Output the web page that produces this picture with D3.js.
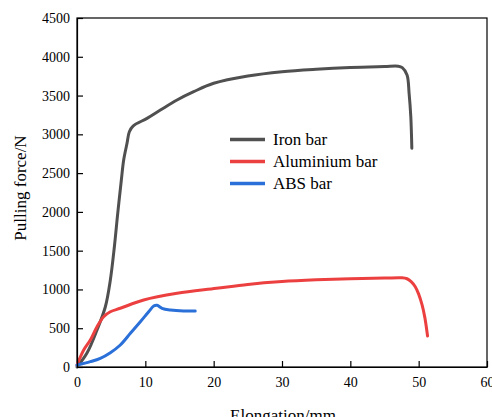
<!DOCTYPE html>
<html>
<head>
<meta charset="utf-8">
<script src="https://cdn.jsdelivr.net/npm/d3@7"></script>
<style>
  body { margin: 0; background: #fff; }
  svg { display: block; font-family: "Liberation Serif", "Times New Roman", serif; }
</style>
</head>
<body>
<svg></svg>
<script>
var w = 492;
var h = 417;

// elongation (mm) / pulling force (N)
var ironX = [0, 1.46, 2.93, 4.15, 4.88, 5.47, 5.96, 6.49, 6.83, 7.32, 7.66, 8.2, 10.25, 12.2, 14.64, 17.08, 20, 25, 30, 35, 40, 45, 47, 47.6, 48.3, 48.6, 48.85, 49.0];
var ironY = [0, 180, 477, 777, 1122, 1551, 1981, 2411, 2669, 2884, 3034, 3107, 3206, 3313, 3443, 3550, 3658, 3752, 3808, 3840, 3862, 3874, 3878, 3860, 3765, 3529, 3227, 2820];

var aluX = [0, 0.98, 1.95, 2.93, 3.9, 4.88, 6.34, 9.76, 14.64, 20.4, 25, 30, 35, 40, 45, 47.5, 48.3, 48.9, 49.5, 50.0, 50.5, 50.9, 51.3];
var aluY = [25, 219, 348, 520, 649, 713, 757, 864, 950, 1014, 1065, 1102, 1124, 1138, 1146, 1150, 1138, 1100, 1035, 940, 800, 640, 400];

var absX = [0, 1.95, 3.41, 4.88, 6.34, 7.81, 9.27, 10.49, 11.22, 11.71, 12.44, 13.66, 15.6, 17.3];
var absY = [25, 69, 112, 185, 284, 434, 584, 713, 786, 795, 757, 735, 722, 722];

var seriesNames = ["Iron bar", "Aluminium bar", "ABS bar"];
var colors = ["#505050", "#ec4040", "#2a70d8"];

var xTicks = [0, 10, 20, 30, 40, 50, 60];
var yTicks = [0, 500, 1000, 1500, 2000, 2500, 3000, 3500, 4000, 4500];

var series = [
  { name: seriesNames[0], x: ironX, y: ironY },
  { name: seriesNames[1], x: aluX, y: aluY },
  { name: seriesNames[2], x: absX, y: absY }
];

var plotLeft = 77, plotRight = 487, plotTop = 18, plotBottom = 367;

var x = d3.scaleLinear().domain([0, 60]).range([plotLeft, plotRight]);
var y = d3.scaleLinear().domain([0, 4500]).range([plotBottom, plotTop]);

var svg = d3.select("svg").attr("width", w).attr("height", h);

// frame
svg.append("rect")
  .attr("x", plotLeft).attr("y", plotTop)
  .attr("width", plotRight - plotLeft).attr("height", plotBottom - plotTop)
  .attr("fill", "none").attr("stroke", "#000").attr("stroke-width", 1.2);

var line = d3.line()
  .x((d) => x(d[0]))
  .y((d) => y(d[1]))
  .curve(d3.curveCatmullRom.alpha(0.5));

svg.selectAll("path.curve")
  .data(series)
  .enter()
  .append("path")
  .attr("class", "curve")
  .attr("d", (s) => line(s.x.map((v, i) => [v, s.y[i]])))
  .attr("fill", "none")
  .attr("stroke", (d, i) => colors[i])
  .attr("stroke-width", 3)
  .attr("stroke-linejoin", "round")
  .attr("stroke-linecap", "round");

// axes, ticks pointing inward
var xAxis = svg.append("g")
  .attr("transform", "translate(0," + plotBottom + ")")
  .call(d3.axisBottom(x).tickValues(xTicks).tickSizeInner(-6).tickSizeOuter(0).tickPadding(10));
var yAxis = svg.append("g")
  .attr("transform", "translate(" + plotLeft + ",0)")
  .call(d3.axisLeft(y).tickValues(yTicks).tickFormat(d3.format("d")).tickSizeInner(-6).tickSizeOuter(0).tickPadding(7));

[xAxis, yAxis].forEach((g) => {
  g.select(".domain").attr("stroke", "#000").attr("stroke-width", 1.2);
  g.selectAll(".tick line").attr("stroke", "#000").attr("stroke-width", 1.2);
  g.selectAll(".tick text")
    .attr("fill", "#000")
    .style("font-family", "Liberation Serif, serif")
    .style("font-size", "14px");
});

svg.append("text")
  .attr("x", (plotLeft + plotRight) / 2 + 1)
  .attr("y", 421)
  .attr("text-anchor", "middle")
  .style("font-size", "17px")
  .text("Elongation/mm");

svg.append("text")
  .attr("transform", "translate(26,188) rotate(-90)")
  .attr("text-anchor", "middle")
  .style("font-size", "17px")
  .text("Pulling force/N");

// legend
var legend = svg.selectAll("g.legend")
  .data(seriesNames)
  .enter()
  .append("g")
  .attr("class", "legend")
  .attr("transform", (d, i) => "translate(230," + (139.5 + i * 22) + ")");

legend.append("line")
  .attr("x1", 0).attr("x2", 35)
  .attr("stroke", (d, i) => colors[i])
  .attr("stroke-width", 3.5);

legend.append("text")
  .attr("x", 43)
  .attr("y", 0)
  .attr("dy", "0.35em")
  .style("font-size", "17px")
  .text((d) => d);
</script>
</body>
</html>
